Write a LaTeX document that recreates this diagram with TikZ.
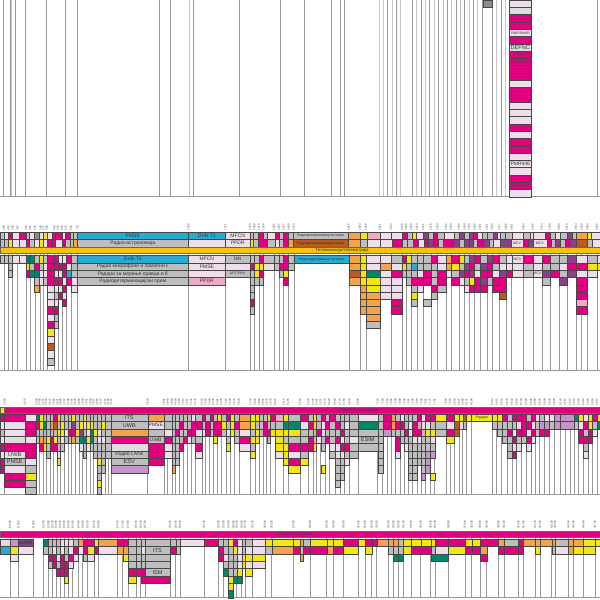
\documentclass[tikz,border=0pt]{standalone}
\usepackage{fontspec}
\setmainfont{Liberation Sans}
\definecolor{cmag}{RGB}{224,0,128}
\definecolor{cgray}{RGB}{190,190,190}
\definecolor{cpale}{RGB}{238,222,234}
\definecolor{cq}{RGB}{222,222,222}
\definecolor{cyel}{RGB}{244,230,20}
\definecolor{cora}{RGB}{243,163,75}
\definecolor{cbro}{RGB}{185,90,30}
\definecolor{cpur}{RGB}{135,65,135}
\definecolor{clil}{RGB}{196,150,200}
\definecolor{ctea}{RGB}{0,135,105}
\definecolor{ccya}{RGB}{40,170,210}
\definecolor{cdgr}{RGB}{140,140,140}
\definecolor{cpnk}{RGB}{240,170,200}
\definecolor{cbar}{RGB}{245,195,15}
\def\rh{7.3}
\newcommand\stk[4]{\foreach \cc [count=\ii from 0] in {#4}{\edef\nxt{\noexpand\path[c\cc]}\nxt (#1,{#3+\ii*\rh}) rectangle (#2,{#3+(\ii+1)*\rh});}}
\newcommand\hrow[2]{\foreach \xa/\xb/\cc in {#2}{\edef\nxt{\noexpand\path[c\cc]}\nxt (\xa,#1) rectangle (\xb,{#1+\rh});}}
\newcommand\lab[6][lbl]{\node[#1] (#2) at ({(#3+#4)/2},{#5+3.65}) {#6};}
\tikzset{
 cellb/.style={draw=black!72,line width=0.3pt},
 cM/.style={cellb,fill=cmag}, cG/.style={cellb,fill=cgray}, cP/.style={cellb,fill=cpale},
 cQ/.style={cellb,fill=cq}, cY/.style={cellb,fill=cyel}, cO/.style={cellb,fill=cora},
 cB/.style={cellb,fill=cbro}, cV/.style={cellb,fill=cpur}, cL/.style={cellb,fill=clil},
 cT/.style={cellb,fill=ctea}, cC/.style={cellb,fill=ccya}, cD/.style={cellb,fill=cdgr},
 cK/.style={cellb,fill=cpnk}, cN/.style={},
 gridl/.style={draw=black!40,line width=0.6pt},
 basel/.style={draw=black!40,line width=0.8pt},
 lbl/.style={font=\fontsize{5}{5}\selectfont,text=black!80,inner sep=0},
 lbs/.style={font=\fontsize{3.5}{3.5}\selectfont,text=black!80,inner sep=0},
 lbb/.style={font=\fontsize{5.6}{5.6}\selectfont,text=black!80,inner sep=0},
 freq/.style={rotate=90,anchor=west,font=\fontsize{2.8}{2.8}\selectfont,text=black!75,inner sep=0}
}
\begin{document}
\begin{tikzpicture}[x=1pt,y=-1pt]
\useasboundingbox (0,0) rectangle (600,600);
\fill[white] (0,0) rectangle (600,600);
% ================= BAND 0 =================
\foreach \xx in {3.3,10.3,15.3,25.3,46,65,77.3,159.3,170.3,193.3,239.3,280.3,304.3,331.7,340.7,344.3,387.7,396,412.3,421,429.7,438.7,447.3,456,464.7,473.3,482.7,492.3,501,509.3,531.3,597.3}
  \draw[gridl] (\xx,0) -- (\xx,196.7);
\foreach \xx in {11.7,189,379,383.3,392,400.3,416.7,425.3,434.3,443,451.7,460.3,469,477.7,496.7,505}
  \draw[gridl,draw=black!22] (\xx,0) -- (\xx,196.7);
\draw[basel] (0,196.7) -- (600,196.7);
\path[cD] (482.7,0) rectangle (492.3,7.3);
\foreach \cc [count=\ii from 0] in {P,Q,M,M,P,M,Q,M,M,M,M,P,M,M,P,P,P,M,P,M,M,P,P,P,M,M,P}
  {\edef\nxt{\noexpand\path[c\cc]}\nxt (509.3,{\ii*7.285}) rectangle (531.3,{(\ii+1)*7.285});}
\node[lbs] (z4) at (520.3,32.8) {PMR/PAMR};
\node[lbb] (z6) at (520.3,47.35) {DEFNC};
\node[lbl,text=black!70] (z7) at (520.3,54.6) {PMR};
\node[lbl,text=black!70] (z8) at (520.3,61.9) {PMR};
\node[lbl] (z22) at (520.3,163.9) {PMR446};
\node[lbl,text=black!70] (z25) at (520.3,185.8) {DEFNCA};
% ================= BAND 1 =================
\def\gA{3.8,8.4,12.6,17.6,26,30,35,40.6,43.6,47,54.3,58,62,66,71,77.3,188.3,225.4,250,254.5,259,263.3,274,279,283.6,288.6,294,349,360,366,380,391,402,406,411,417,423,431,437.5,446,451,459,464.6,469,474.6,480,486.8,491.8,499.4,506,511.7,523.5,533,542,550,559,567,576,581.7,587.5,597}
\foreach \xx in \gA \draw[gridl] (\xx,232.3) -- (\xx,370.7);
\draw[basel] (0,370.7) -- (600,370.7);
\foreach \xx [count=\i] in \gA {\pgfmathtruncatemacro\fq{380+\xx*4.4}\node[freq] (fa\i) at (\xx,230.5) {\fq};}
\hrow{232.3}{0/4/G,4/8.4/P,8.4/12.6/M,12.6/19.3/P,19.3/26/M,26/29.3/G,29.3/34.3/P,34.3/39.3/D,39.3/43.3/P,43.3/47/Y,47/51.7/P,51.7/55/M,55/62/M,62/65/P,65/70/M,70/73.3/G,73.3/77.3/G,77.3/188.3/C,188.3/225.4/C,225.4/250/P,250/253.3/G,253.3/258/G,258/263.3/M,263.3/266.7/G,266.7/275/P,275/279.3/M,279.3/283.3/G,283.3/288.3/M,288.3/292.7/G,292.7/348.3/G,348.3/360/O,360/366.7/Y,366.7/380/K,380/390.7/P,390.7/401.7/P,401.7/406.7/M,406.7/411.7/G,411.7/416/Y,416/423.3/P,423.3/428.3/V,428.3/432.7/G,432.7/437.3/M,437.3/444/G,444/454/P,454/459.3/G,459.3/464/V,464/469.3/G,469.3/472.7/V,472.7/476.7/M,476.7/481.7/P,481.7/486.7/G,486.7/492.7/G,492.7/496.7/V,496.7/500/P,500/505/G,505/511.7/G,511.7/523.3/P,523.3/530/G,530/532.7/P,532.7/545/P,545/550/M,550/555/G,555/560/P,560/566.7/G,566.7/571.7/V,571.7/576/G,576/587.3/O,587.3/590.7/Y,590.7/600/P}
\hrow{239.6}{0/4/G,4/8.4/G,8.4/12.6/Y,12.6/19.3/P,19.3/26/P,26/29.3/M,29.3/34.3/G,34.3/39.3/P,39.3/43.3/Y,43.3/47/P,47/51.7/M,51.7/55/M,55/62/P,62/65/M,65/70/G,70/73.3/G,73.3/77.3/O,77.3/188.3/G,188.3/225.4/P,225.4/250/P,250/253.3/Y,253.3/258/G,258/263.3/M,263.3/266.7/M,266.7/275/G,275/279.3/P,279.3/283.3/G,283.3/288.3/M,288.3/292.7/O,292.7/348.3/B,348.3/360/O,360/366.7/G,366.7/380/P,380/391.7/P,391.7/401.7/M,401.7/406.7/G,406.7/413.3/G,413.3/418.3/M,418.3/424/P,424/428.3/M,428.3/433.3/V,433.3/438.3/M,438.3/443.3/G,443.3/453.3/M,453.3/459.3/V,459.3/464/G,464/469.3/V,469.3/473.3/V,473.3/477.3/G,477.3/482.7/M,482.7/489.3/V,489.3/493.3/G,493.3/500/P,500/510.7/V,510.7/523.3/P,523.3/528.3/M,528.3/532.7/V,532.7/546.7/P,546.7/550.7/M,550.7/555/G,555/560/V,560/565/G,565/569.3/M,569.3/576/V,576/587.3/B,587.3/591.7/G,591.7/600/P}
\path[draw=black!60,line width=0.3pt,fill=cbar] (0,246.9) rectangle (600,253);
\node[lbl,font=\fontsize{4.4}{4.4}\selectfont] (tkt) at (342,250) {Телекоманда/телеметрија};
% lower stacks band 1
\def\yb{255.5}
\stk{0}{4}{\yb}{G}
\stk{4}{8.4}{\yb}{G}
\stk{8.4}{12.6}{\yb}{G,G,G}
\stk{12.6}{19.3}{\yb}{P}
\stk{19.3}{26}{\yb}{P}
\stk{26}{29.3}{\yb}{T,Y,M}
\stk{29.3}{34.3}{\yb}{T,G,T}
\stk{34.3}{39.3}{\yb}{G,M,T,G,O}
\stk{39.3}{43.3}{\yb}{Y,G,P,P}
\stk{43.3}{47}{\yb}{G,P,P,G}
\stk{47}{54.3}{\yb}{M,M,M,M,P,P,P,M,P,M,Y,P,B,P,G}
\stk{54.3}{58}{\yb}{M,M,P,M,P,G,P,M,G,G}
\stk{58}{62}{\yb}{P,M,P,M,P,M}
\stk{62}{66}{\yb}{P,M,M,P,M,P,M}
\stk{66}{71}{\yb}{M,P,C,M}
\stk{71}{77.3}{\yb}{G,G,G,P,P}
\stk{77.3}{188.3}{\yb}{C,G,G,G}
\stk{188.3}{225.4}{\yb}{P,P,P,K}
\stk{225.4}{250}{\yb}{G,P,G}
\stk{250}{254.5}{\yb}{G,M,G,G,G,G,M,G}
\stk{254.5}{259}{\yb}{G,Y,Y,G}
\stk{259}{263.3}{\yb}{M,Y,M,G}
\stk{263.3}{274}{\yb}{G,P}
\stk{274}{279}{\yb}{G,G}
\stk{279}{283.6}{\yb}{G,M,G}
\stk{283.6}{288.6}{\yb}{M,M,Y,M}
\stk{288.6}{294}{\yb}{G,G}
\stk{294}{349}{\yb}{C}
\stk{349}{360}{\yb}{O,O,B,O}
\stk{360}{366}{\yb}{Y,Y,Y,Y,O,O,O,O}
\stk{366}{380}{\yb}{P,P,T,Y,Y,O,O,O,O,G}
\stk{380}{391}{\yb}{P,O,P,P,P,P}
\stk{391}{402}{\yb}{G,P,M,P,P,P,M,M}
\stk{402}{406}{\yb}{M,Y,G}
\stk{406}{411}{\yb}{Y,G,G,G}
\stk{411}{417}{\yb}{G,C,G,M,G,Y,G}
\stk{417}{423}{\yb}{G,G,P,M,P}
\stk{423}{431}{\yb}{G,G,M,M,N,N,G}
\stk{431}{437.5}{\yb}{M,G,G,G,M,G}
\stk{437.5}{446}{\yb}{P,P,M,M,G}
\stk{446}{451}{\yb}{O,O,P}
\stk{451}{459}{\yb}{M,Y,G,M}
\stk{459}{464.6}{\yb}{Y,G,V,P}
\stk{464.6}{469}{\yb}{G,V,M,G,P}
\stk{469}{474.6}{\yb}{V,M,V,Y,M}
\stk{474.6}{480}{\yb}{M,G,P,M,M}
\stk{480}{486.8}{\yb}{G,V,M,V,M}
\stk{486.8}{491.8}{\yb}{V,M,M,G}
\stk{491.8}{499.4}{\yb}{M,G,P,M,M}
\stk{499.4}{506}{\yb}{G,P,V,M,M,B}
\stk{506}{511.7}{\yb}{P,P,M}
\stk{511.7}{523.5}{\yb}{P,P,P}
\stk{523.5}{533}{\yb}{M,G,G}
\stk{533}{542}{\yb}{P,P,P}
\stk{542}{550}{\yb}{M,G,V,G}
\stk{550}{559}{\yb}{G,G,M}
\stk{559}{567}{\yb}{G,P,G,V}
\stk{567}{576}{\yb}{V,M,V}
\stk{576}{587.5}{\yb}{P,M,P,M,M,M,K,M}
\stk{587.5}{597}{\yb}{G,Y,P}
\stk{597}{600}{\yb}{P,Y}
% labels band 1
\lab{b1a}{77.3}{188.3}{232.3}{PMSE}
\lab{b1b}{188.3}{225.4}{232.3}{DVB-T2}
\lab{b1c}{225.4}{250}{232.3}{MFCN}
\lab{b1d}{77.3}{188.3}{239.6}{Радио-астрономија}
\lab{b1e}{225.4}{250}{239.6}{PPDR}
\lab[lbs]{b1f}{292.7}{348.3}{232.3}{Радиодетерминацијски прим}
\lab[lbs]{b1g}{292.7}{348.3}{239.6}{Радиодетерминацијски прим}
\lab[lbs]{b1h}{510.7}{523.3}{239.6}{MCV}
\lab[lbs]{b1i}{532.7}{546.7}{239.6}{MCV}
\lab{b1j}{77.3}{188.3}{255.5}{DVB-T2}
\lab{b1k}{188.3}{225.4}{255.5}{MFCN}
\lab{b1l}{225.4}{250}{255.5}{NN}
\lab{b1m}{77.3}{188.3}{262.8}{Радио микрофони и помоћни с}
\lab{b1n}{188.3}{225.4}{262.8}{PMSE}
\lab{b1o}{77.3}{188.3}{270.1}{Радари за мерење правца и б}
\lab[lbs]{b1p}{225.4}{250}{270.1}{MTCPHN}
\lab{b1q}{77.3}{188.3}{277.4}{Радиодетерминацијски прим}
\lab{b1r}{188.3}{225.4}{277.4}{PPDR}
\lab[lbs]{b1s}{294}{349}{255.5}{Радиоодређивање система}
\lab[lbs]{b1t}{511.7}{523.5}{255.5}{MCV}
\lab[lbs]{b1u}{533}{542}{270.1}{MCV}
% ================= BAND 2 =================
\def\gB{4.6,24.9,36.4,39.4,42.9,45.9,49.8,53.6,57.4,60.5,64.3,68.1,71.6,75,78.8,82.7,86.5,90.3,93.4,96.8,100.7,105.2,108,111,147.7,163.8,167.6,171.8,175.3,179,183,187,191,194.8,202,205.5,209.7,213.2,217.4,221.2,225.8,230,234.2,238.8,250.3,254.9,259.1,262.9,266.7,270.6,275.2,283.6,287.8,300,308.5,313,316.5,320.7,324.9,329.1,334.9,339.8,344,349.4,357.8,377.7,382.7,387.3,391.1,395.3,399.9,404.5,408.3,412.6,416.8,421.4,425.6,429.8,434.7,445.8,450,454.6,458.9,462.7,466.5,471.5,492.2,496.7,501.7,507.1,512,516.6,521.2,526.2,530.8,535,539.6,544.6,549.6,554.2,560.3,564.9,569.8,574,578.6,583.2,587.8,592.4,597}
\foreach \xx in \gB \draw[gridl] (\xx,407.3) -- (\xx,494.3);
\draw[basel] (0,494.3) -- (600,494.3);
\foreach \xx [count=\i] in \gB {\pgfmathtruncatemacro\fq{3000+\xx*11}\node[freq] (fb\i) at (\xx,405.3) {\fq};}
\path[draw=black!60,line width=0.3pt,fill=cmag] (4.6,407.3) rectangle (600,413.3);
\path[draw=black!60,line width=0.3pt,fill=cyel] (0,407.3) rectangle (4.6,413.3);
\node[lbl,font=\fontsize{4.4}{4.4}\selectfont,text=black!75] (pk2) at (359,410.3) {Покретни системи};
\def\yb{414.3}
\stk{0}{4.6}{\yb}{M,P,G,P,M,P,M,M}
\stk{4.6}{24.9}{\yb}{M,P,P,Q,M,Q,G,P,M,M}
\stk{24.9}{36.4}{\yb}{P,M,M,P,M,M,P,G,Y,G,G}
\stk{36.4}{39.4}{\yb}{T,M,G,G}
\stk{39.4}{42.9}{\yb}{Y,Y,G,O,M}
\stk{42.9}{45.9}{\yb}{G,T,G,O,Y}
\stk{45.9}{49.8}{\yb}{G,G,G,Y,G,G}
\stk{49.8}{53.6}{\yb}{G,O,G,M,M}
\stk{53.6}{57.4}{\yb}{M,B,G,Y,M}
\stk{57.4}{60.5}{\yb}{Y,G,Y,G,G,P,Y}
\stk{60.5}{64.3}{\yb}{G,Y,Y,P,G}
\stk{64.3}{68.1}{\yb}{G,G,P,G}
\stk{68.1}{71.6}{\yb}{G,G,M,G}
\stk{71.6}{75}{\yb}{Y,V,M,O}
\stk{75}{78.8}{\yb}{G,G,Y,G}
\stk{78.8}{82.7}{\yb}{G,Y,V,T,P}
\stk{82.7}{86.5}{\yb}{Y,P,G,T,G,G}
\stk{86.5}{90.3}{\yb}{G,Y,P,Y,P}
\stk{90.3}{93.4}{\yb}{G,Y,T,T,G}
\stk{93.4}{96.8}{\yb}{G,G,Y,G,G,G}
\stk{96.8}{100.7}{\yb}{G,G,P,P,G,G,Y,G,G,Y,G}
\stk{100.7}{105.2}{\yb}{G,Y,G,P,G,G,G,G}
\stk{105.2}{111}{\yb}{G,G,G,G,G,G}
\stk{111}{147.7}{\yb}{G,G,O,M,Q,G,G,L}
\stk{147.7}{163.8}{\yb}{O,P,G,G,M,M,M}
\stk{163.8}{171.8}{\yb}{G,G,P,M,P,P}
\stk{171.8}{175.3}{\yb}{G,G,G,G,G,G,G,O}
\stk{175.3}{179}{\yb}{G,G,M,G,G,G,G}
\stk{179}{183}{\yb}{G,M,G,G,M}
\stk{183}{187}{\yb}{G,G,G,M}
\stk{187}{191}{\yb}{G,G,M,P}
\stk{191}{194.8}{\yb}{P,M,M,G}
\stk{194.8}{202}{\yb}{G,M,P,G,M,P}
\stk{202}{205.5}{\yb}{M,G,P}
\stk{205.5}{209.7}{\yb}{G,M,M}
\stk{209.7}{213.2}{\yb}{M,G,G}
\stk{213.2}{217.4}{\yb}{G,M,M,Y}
\stk{217.4}{221.2}{\yb}{Y,M,M}
\stk{221.2}{225.8}{\yb}{G,Y,G}
\stk{225.8}{230}{\yb}{M,G,P,G,Y}
\stk{230}{234.2}{\yb}{Y,Y,Y}
\stk{234.2}{238.8}{\yb}{G,M,G,G}
\stk{238.8}{250.3}{\yb}{O,O,P,M,P}
\stk{250.3}{254.9}{\yb}{Y,Y,G,Y,G,Y}
\stk{254.9}{259.1}{\yb}{Y,G,Y,Y}
\stk{259.1}{262.9}{\yb}{G,G,G}
\stk{262.9}{266.7}{\yb}{G,M,M}
\stk{266.7}{270.6}{\yb}{Y,G,M,G}
\stk{270.6}{275.2}{\yb}{M,G,Y}
\stk{275.2}{283.6}{\yb}{K,G,Y,Y,Y,P}
\stk{283.6}{287.8}{\yb}{Y,T,Y,G,Y,Y,Y}
\stk{287.8}{300}{\yb}{G,T,Y,G,M,P,M,Y}
\stk{300}{308.5}{\yb}{M,P,G,G,M,G,Y}
\stk{308.5}{313}{\yb}{G,M,G,M,M}
\stk{313}{316.5}{\yb}{Y,Y,G,G,Y}
\stk{316.5}{320.7}{\yb}{G,G,M,P}
\stk{320.7}{324.9}{\yb}{M,P,P,G,G,N,N,Y}
\stk{324.9}{329.1}{\yb}{G,M,G,M}
\stk{329.1}{334.9}{\yb}{M,G,G,G,P,G}
\stk{334.9}{339.8}{\yb}{G,M,G,M,P,P,G,G,G,G}
\stk{339.8}{344}{\yb}{G,G,M,P,M,P,G,G,G}
\stk{344}{349.4}{\yb}{G,P,G,G,M,G,P}
\stk{349.4}{357.8}{\yb}{G,G,G,P,G,G}
\stk{357.8}{377.7}{\yb}{P,T,G,G,G}
\stk{377.7}{382.7}{\yb}{G,G,G,G,G,G,G,G}
\stk{382.7}{391.1}{\yb}{M,M,L}
\stk{391.1}{395.3}{\yb}{O,O,G}
\stk{395.3}{399.9}{\yb}{G,M,G,M,M,P}
\stk{399.9}{404.5}{\yb}{P,M,G,G}
\stk{404.5}{408.3}{\yb}{G,G,M,G,P}
\stk{408.3}{412.6}{\yb}{G,P,P,G,G,G,G,G,G}
\stk{412.6}{416.8}{\yb}{G,M,M,P,G,G,G,G,G}
\stk{416.8}{421.4}{\yb}{M,G,M,P,G,G,G}
\stk{421.4}{425.6}{\yb}{P,P,G,G,G,G,G,G,L}
\stk{425.6}{429.8}{\yb}{M,P,Y,G,G,L,L,L}
\stk{429.8}{434.7}{\yb}{M,G,Y,P,G,L,N,N,Y}
\stk{434.7}{445.8}{\yb}{Y,G,G}
\stk{445.8}{454.6}{\yb}{M,P,M,Y}
\stk{454.6}{458.9}{\yb}{Y,B,B}
\stk{458.9}{462.7}{\yb}{Y,P}
\stk{462.7}{466.5}{\yb}{B,G}
\stk{466.5}{471.5}{\yb}{Y}
\stk{471.5}{492.2}{\yb}{Y}
\stk{492.2}{496.7}{\yb}{Y,G}
\stk{496.7}{501.7}{\yb}{Y,G,G}
\stk{501.7}{507.1}{\yb}{M,G,G,G}
\stk{507.1}{512}{\yb}{G,G,M,G,G,G}
\stk{512}{516.6}{\yb}{M,G,P,M,P,M}
\stk{516.6}{521.2}{\yb}{M,P,M,G,P}
\stk{521.2}{526.2}{\yb}{M,M,M,G}
\stk{526.2}{530.8}{\yb}{G,M,P,M,P}
\stk{530.8}{535}{\yb}{M,P,M,P}
\stk{535}{539.6}{\yb}{P,G,G}
\stk{539.6}{544.6}{\yb}{G,L,M}
\stk{544.6}{549.6}{\yb}{P,L,M}
\stk{549.6}{554.2}{\yb}{P,G}
\stk{554.2}{560.3}{\yb}{L,L}
\stk{560.3}{574}{\yb}{L,L}
\stk{574}{578.6}{\yb}{T,G}
\stk{578.6}{583.2}{\yb}{Y,P,M,M}
\stk{583.2}{587.8}{\yb}{P,M,G,M,G,P}
\stk{587.8}{592.4}{\yb}{Y,Y,M,M}
\stk{592.4}{597}{\yb}{M,G,P}
\stk{597}{600}{\yb}{Y,T}
\lab[lbb]{b2a}{111}{147.7}{414.3}{ITS}
\lab[lbb]{b2b}{111}{147.7}{421.6}{UWB}
\lab[lbl]{b2c}{111}{147.7}{450.8}{Радио LANs}
\lab[lbb]{b2d}{111}{147.7}{458.1}{ESV}
\lab[lbb]{b2e}{4.6}{24.9}{450.8}{UWB}
\lab[lbb]{b2f}{4.6}{24.9}{458.1}{PMSE}
\lab[lbl]{b2g}{147.7}{163.8}{421.6}{PMSE}
\lab[lbl]{b2h}{147.7}{163.8}{436.2}{UWB}
\lab[lbb]{b2i}{357.8}{377.7}{436.2}{ESIM}
\lab[lbs]{b2j}{471.5}{492.2}{414.3}{Радари}
% ================= BAND 3 =================
\def\gC{10,18.3,33.3,43.3,48.3,52.3,56,60,64,68.3,72.7,78.3,82.7,87.3,94,98.3,117.3,122.7,128,136,140.7,145,170,175.7,180,204,218.3,223.3,228.3,233.3,236.7,241.7,245,252.3,265,271.7,293.3,310,326.7,333.3,343.3,358.3,365,371.7,376.7,388.3,393.3,398.3,403.3,411,420.7,430.7,435,448.3,465,471.7,480,486.7,498.3,504,518.3,523.3,535,540,551.7,555,568.3,573.3,583.3,595}
\foreach \xx in \gC \draw[gridl] (\xx,531) -- (\xx,597.7);
\draw[basel] (0,597.7) -- (600,597.7);
\foreach \xx [count=\i] in \gC {\pgfmathtruncatemacro\fq{1000+\xx*6}\node[freq] (fc\i) at (\xx,528.8) {\fq0};}
\path[draw=black!60,line width=0.3pt,fill=cmag] (0,531) rectangle (600,537);
\node[lbl,font=\fontsize{4.4}{4.4}\selectfont,text=black!75] (pk3) at (295,534) {Покретни системи};
\def\yb{539.3}
\stk{0}{10}{\yb}{Q,C}
\stk{10}{18.3}{\yb}{L,Y,P}
\stk{18.3}{33.3}{\yb}{V,P}
\stk{43.3}{48.3}{\yb}{T,G}
\stk{48.3}{52.3}{\yb}{G,G,M,G}
\stk{52.3}{56}{\yb}{G,P,M,M}
\stk{56}{60}{\yb}{G,G,P,G,M}
\stk{60}{64}{\yb}{P,P,M,M,M}
\stk{64}{68.3}{\yb}{P,G,G,M,M,Y}
\stk{68.3}{72.7}{\yb}{P,P,M,P}
\stk{72.7}{78.3}{\yb}{G,M,P}
\stk{78.3}{82.7}{\yb}{O,P}
\stk{82.7}{87.3}{\yb}{M,M,G}
\stk{87.3}{94}{\yb}{M,Y,P}
\stk{94}{98.3}{\yb}{Y,M}
\stk{98.3}{117.3}{\yb}{O,P}
\stk{117.3}{122.7}{\yb}{M,O}
\stk{122.7}{128}{\yb}{M,O,Y}
\stk{128}{136}{\yb}{G,G,G,G,M,Y}
\stk{136}{140.7}{\yb}{G,G,G,G,M}
\stk{140.7}{145}{\yb}{G,P,G,G,M,M}
\stk{145}{170}{\yb}{G,G,G,G,G,M}
\stk{170}{175.7}{\yb}{G,M}
\stk{175.7}{180}{\yb}{G,G}
\stk{180}{204}{\yb}{P}
\stk{204}{218.3}{\yb}{M}
\stk{218.3}{223.3}{\yb}{G,M,M}
\stk{223.3}{228.3}{\yb}{G,G,P,G,T}
\stk{228.3}{233.3}{\yb}{Y,G,G,G,G,Y,Y,T}
\stk{233.3}{236.7}{\yb}{M,Y,G,G,G,T}
\stk{236.7}{241.7}{\yb}{P,P,P,P,Y,T}
\stk{241.7}{245}{\yb}{G,G,Y,Y}
\stk{245}{252.3}{\yb}{G,P,Y,P,Y}
\stk{252.3}{265}{\yb}{P,P,Y,P}
\stk{265}{271.7}{\yb}{Y,G}
\stk{271.7}{293.3}{\yb}{Y,O}
\stk{293.3}{300}{\yb}{Y,M}
\stk{300}{303.5}{\yb}{O,G,O}
\stk{303.5}{310}{\yb}{G,M}
\stk{310}{326.7}{\yb}{Y,M}
\stk{326.7}{333.3}{\yb}{Y,O}
\stk{333.3}{343.3}{\yb}{Y,M}
\stk{343.3}{358.3}{\yb}{M,Y}
\stk{358.3}{365}{\yb}{Y}
\stk{365}{371.7}{\yb}{M,Y}
\stk{371.7}{376.7}{\yb}{M}
\stk{376.7}{388.3}{\yb}{O}
\stk{388.3}{393.3}{\yb}{O,G}
\stk{393.3}{398.3}{\yb}{O,G,T}
\stk{398.3}{403.3}{\yb}{G,G,T}
\stk{403.3}{411}{\yb}{Y,Y}
\stk{411}{420.7}{\yb}{Y,M}
\stk{420.7}{430.7}{\yb}{Y,M}
\stk{430.7}{448.3}{\yb}{N,N,T}
\stk{430.7}{435}{\yb}{Y,G}
\stk{435}{448.3}{\yb}{M,P}
\stk{448.3}{465}{\yb}{M,Y}
\stk{465}{471.7}{\yb}{Y,M}
\stk{471.7}{480}{\yb}{Y,M}
\stk{480}{486.7}{\yb}{M,O,M}
\stk{486.7}{498.3}{\yb}{M}
\stk{498.3}{504}{\yb}{O,M}
\stk{504}{518.3}{\yb}{G,M}
\stk{518.3}{523.3}{\yb}{M,M}
\stk{523.3}{535}{\yb}{O}
\stk{535}{540}{\yb}{O,Y}
\stk{540}{551.7}{\yb}{O}
\stk{551.7}{555}{\yb}{O,G}
\stk{555}{568.3}{\yb}{G,P}
\stk{568.3}{573.3}{\yb}{O,O}
\stk{573.3}{583.3}{\yb}{O,Y}
\stk{583.3}{595}{\yb}{Y,Y}
\stk{595}{600}{\yb}{Y}
\lab[lbl]{b3a}{18.3}{33.3}{539.3}{SWIM}
\lab[lbb]{b3b}{145}{170}{546.6}{ITS}
\lab[lbb]{b3c}{145}{170}{568.5}{ISM}
\end{tikzpicture}
\end{document}
